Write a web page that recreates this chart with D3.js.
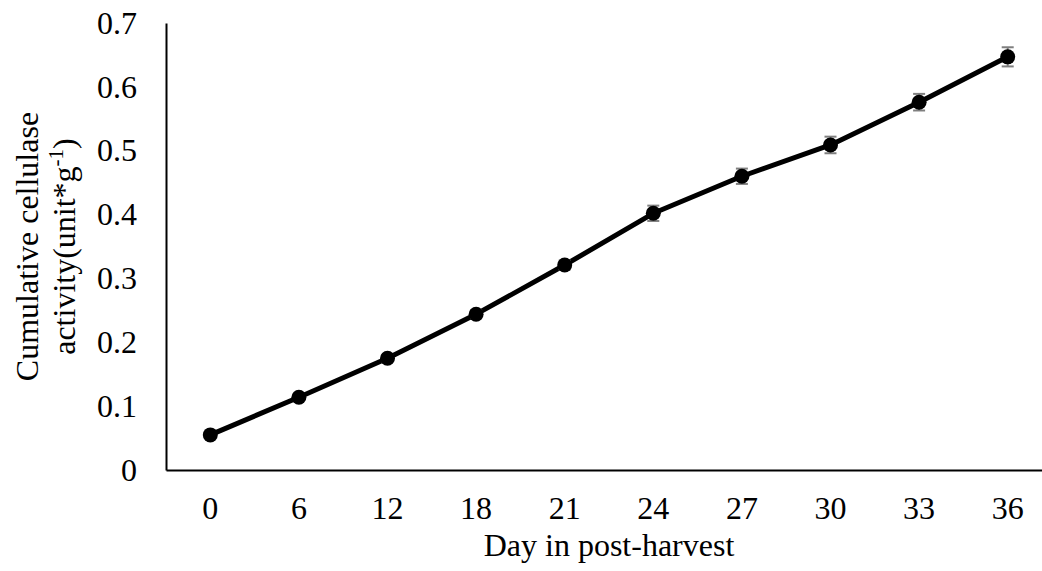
<!DOCTYPE html>
<html>
<head>
<meta charset="utf-8">
<script src="https://cdn.jsdelivr.net/npm/d3@7"></script>
<style>
  body { margin: 0; background: #fff; }
  text { font-family: "Liberation Serif", "Times New Roman", serif; fill: #000; }
</style>
</head>
<body>
<div id="chart"></div>
<script>
var svgWidth = 1042;
var svgHeight = 571;

// data
var days = ["0", "6", "12", "18", "21", "24", "27", "30", "33", "36"];
var activity = [0.055, 0.114, 0.175, 0.244, 0.321, 0.402, 0.460, 0.509, 0.576, 0.647];
var errors = [0.003, 0.004, 0.005, 0.006, 0.007, 0.012, 0.012, 0.013, 0.013, 0.015];
var yTicks = [0, 0.1, 0.2, 0.3, 0.4, 0.5, 0.6, 0.7];

var plot = { left: 166, top: 23, bottom: 470, right: 1052 };

var svg = d3.select("#chart")
  .append("svg")
  .attr("width", svgWidth)
  .attr("height", svgHeight);

var xScale = d3.scaleBand()
  .domain(days)
  .range([plot.left, plot.right]);

var yScale = d3.scaleLinear()
  .domain([0, 0.7])
  .range([plot.bottom, plot.top]);

// axes
var bottomAxis = d3.axisBottom(xScale).tickSize(0).tickPadding(26);
var leftAxis = d3.axisLeft(yScale).tickValues(yTicks).tickSize(0).tickPadding(29)
  .tickFormat(function(d) { return d === 0 ? "0" : d3.format(".1f")(d); });

var xAxisG = svg.append("g")
  .attr("transform", `translate(0, ${plot.bottom})`)
  .call(bottomAxis);

var yAxisG = svg.append("g")
  .attr("transform", `translate(${plot.left}, 0)`)
  .call(leftAxis);

[xAxisG, yAxisG].forEach(function(g) {
  g.attr("font-family", null).attr("font-size", null);
  g.select(".domain").attr("stroke", "#000").attr("stroke-width", 2);
  g.selectAll("text").style("font-size", "32px").attr("fill", "#000");
});

// series line
var line = d3.line()
  .x(function(d, i) { return xScale(days[i]) + xScale.bandwidth() / 2; })
  .y(function(d) { return yScale(d); });

svg.append("path")
  .datum(activity)
  .attr("fill", "none")
  .attr("stroke", "#000")
  .attr("stroke-width", 5)
  .attr("stroke-linejoin", "round")
  .attr("d", line);

// error bars
var errG = svg.append("g")
  .attr("stroke", "#7f7f7f")
  .attr("stroke-width", 2);

activity.forEach(function(v, i) {
  var cx = xScale(days[i]) + xScale.bandwidth() / 2;
  var y1 = yScale(v + errors[i]);
  var y2 = yScale(v - errors[i]);
  errG.append("line").attr("x1", cx).attr("x2", cx).attr("y1", y1).attr("y2", y2);
  errG.append("line").attr("x1", cx - 6).attr("x2", cx + 6).attr("y1", y1).attr("y2", y1);
  errG.append("line").attr("x1", cx - 6).attr("x2", cx + 6).attr("y1", y2).attr("y2", y2);
});

// markers
svg.selectAll("circle")
  .data(activity)
  .enter()
  .append("circle")
  .attr("cx", function(d, i) { return xScale(days[i]) + xScale.bandwidth() / 2; })
  .attr("cy", function(d) { return yScale(d); })
  .attr("r", 7.5)
  .attr("fill", "#000");

// axis titles
svg.append("text")
  .attr("x", 609)
  .attr("y", 556)
  .attr("text-anchor", "middle")
  .style("font-size", "32px")
  .text("Day in post-harvest");

var midY = (plot.top + plot.bottom) / 2;

svg.append("text")
  .attr("transform", `translate(38, ${midY}) rotate(-90)`)
  .attr("text-anchor", "middle")
  .style("font-size", "32px")
  .text("Cumulative cellulase");

var t2 = svg.append("text")
  .attr("transform", `translate(75, ${midY}) rotate(-90)`)
  .attr("text-anchor", "middle")
  .style("font-size", "32px");
t2.append("tspan").text("activity(unit*g");
t2.append("tspan").attr("dy", -12).style("font-size", "21px").text("-1");
t2.append("tspan").attr("dy", 12).text(")");
</script>
</body>
</html>
